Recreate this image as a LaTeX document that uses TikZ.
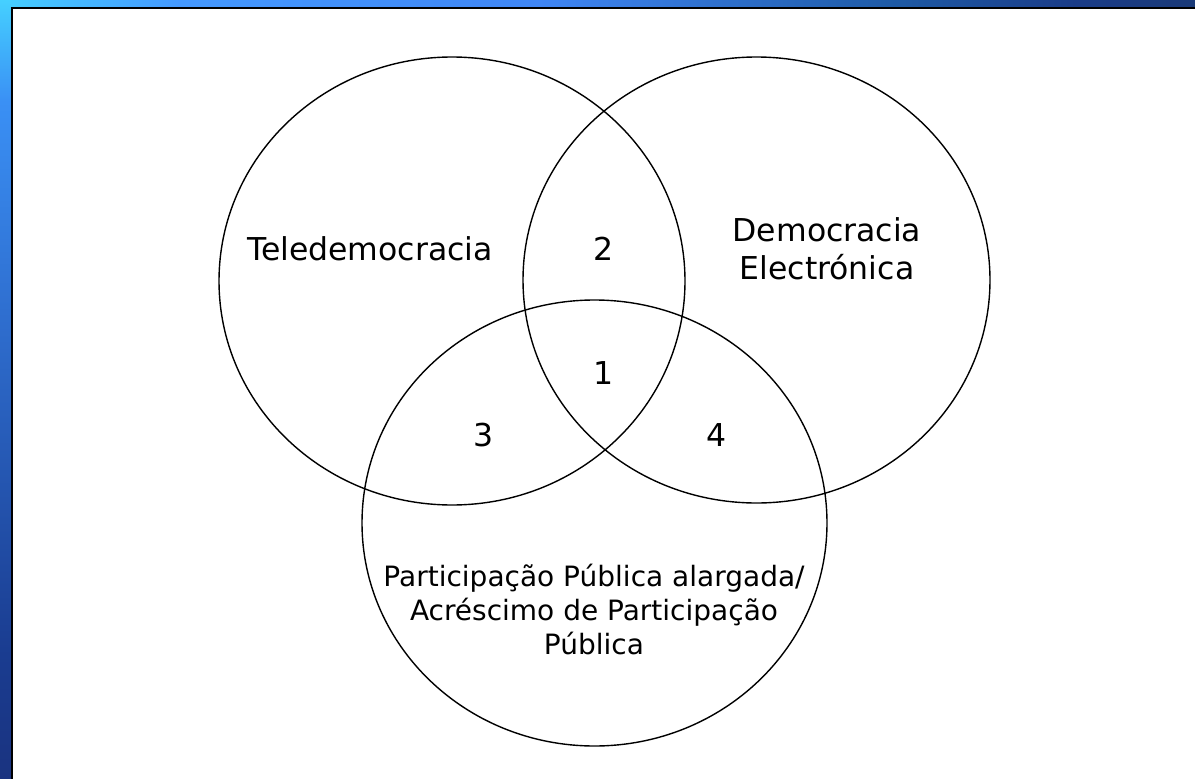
\documentclass[tikz,border=0pt]{standalone}
\usepackage{fontspec}
\setmainfont{DejaVu Sans}
\usetikzlibrary{shapes.geometric}
\definecolor{bc1}{HTML}{45D0FF}
\definecolor{bc2}{HTML}{4499FF}
\definecolor{bc3}{HTML}{3F86F5}
\definecolor{bc4}{HTML}{1E5AA5}
\definecolor{bc5}{HTML}{1A3C88}
\definecolor{bc6}{HTML}{1A3A78}
\definecolor{lc2}{HTML}{3A90F5}
\definecolor{lc3}{HTML}{2F6FD0}
\definecolor{lc4}{HTML}{1A3C90}
\definecolor{lc5}{HTML}{1A3380}
\pgfdeclarehorizontalshading{topband}{100bp}{color(0bp)=(bc1); color(25bp)=(bc1); color(32.5bp)=(bc2); color(47.5bp)=(bc3); color(62.5bp)=(bc4); color(70bp)=(bc5); color(75bp)=(bc6); color(100bp)=(bc6)}
\pgfdeclareverticalshading{leftband}{100bp}{color(0bp)=(lc5); color(25bp)=(lc5); color(33bp)=(lc4); color(55bp)=(lc3); color(68.5bp)=(lc2); color(75bp)=(bc1); color(100bp)=(bc1)}
\tikzset{
  venn/.style={draw=black, line width=1.4pt, shape=ellipse, inner sep=0pt, fill=none},
  lbl/.style={font=\fontsize{31.5}{38}\selectfont, align=center, inner sep=0pt, text=black},
  lblsmall/.style={font=\fontsize{28}{34}\selectfont, align=center, inner sep=0pt, text=black}
}
\begin{document}
\begin{tikzpicture}[x=1pt,y=-1pt]
\useasboundingbox (0,0) rectangle (1195,779);
\fill[white] (0,0) rectangle (1195,779);
\shade[shading=topband] (0,0) rectangle (1195,7);
\shade[shading=leftband] (0,0) rectangle (11,779);
\fill[black] (11,7) rectangle (1195,9.3);
\fill[black] (11,7) rectangle (13.3,779);
% circles
\node[venn, minimum width=466pt, minimum height=448pt] (A) at (452,281) {};
\node[venn, minimum width=467pt, minimum height=446pt] (B) at (756.5,280) {};
\node[venn, minimum width=465pt, minimum height=446pt] (C) at (594.5,523) {};
% labels
\node[lbl] (tele) at (370,249) {Teledemocracia};
\node[lbl] (two) at (604,249) {2};
\node[lbl] (dem) at (827,249) {Democracia\\Electrónica};
\node[lbl] (one) at (604,373) {1};
\node[lbl] (three) at (484,435) {3};
\node[lbl] (four) at (717,435) {4};
\node[lblsmall] (part) at (594,609) {Participação Pública alargada/\\Acréscimo de Participação\\Pública};
\end{tikzpicture}
\end{document}
